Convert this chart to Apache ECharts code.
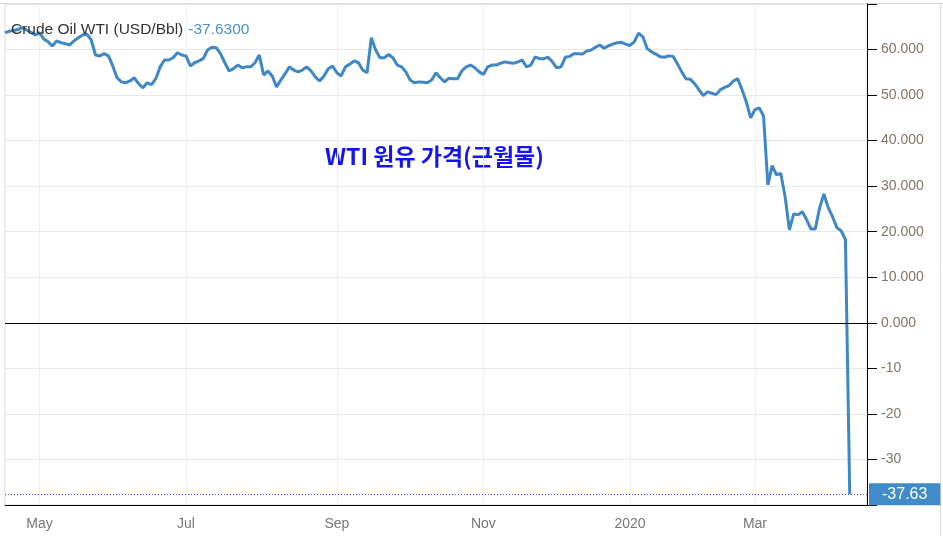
<!DOCTYPE html>
<html>
<head>
<meta charset="utf-8">
<title>Crude Oil WTI</title>
<script src="https://cdn.jsdelivr.net/npm/echarts/dist/echarts.min.js"></script>
<style>
  html, body { margin: 0; padding: 0; background: #fff; }
  #chart { width: 943px; height: 536px; }
</style>
</head>
<body>
<div id="chart"></div>
<script>
// sampled dates (roughly every other trading day)
var dates = [
  "2019-04-16","2019-04-17","2019-04-18","2019-04-22","2019-04-23","2019-04-25","2019-04-26","2019-04-29",
  "2019-05-01","2019-05-03","2019-05-06","2019-05-07","2019-05-09","2019-05-10","2019-05-13","2019-05-14","2019-05-16","2019-05-17","2019-05-20","2019-05-21","2019-05-23","2019-05-24","2019-05-28","2019-05-29","2019-05-31",
  "2019-06-03","2019-06-04","2019-06-05","2019-06-07","2019-06-10","2019-06-11","2019-06-13","2019-06-14","2019-06-17","2019-06-18","2019-06-20","2019-06-21","2019-06-24","2019-06-25","2019-06-26","2019-06-27","2019-06-28",
  "2019-07-01","2019-07-02","2019-07-03","2019-07-05","2019-07-08","2019-07-09","2019-07-11","2019-07-12","2019-07-15","2019-07-16","2019-07-18","2019-07-19","2019-07-22","2019-07-23","2019-07-25","2019-07-26","2019-07-29","2019-07-30",
  "2019-08-01","2019-08-02","2019-08-05","2019-08-06","2019-08-08","2019-08-09","2019-08-12","2019-08-13","2019-08-15","2019-08-16","2019-08-19","2019-08-20","2019-08-22","2019-08-23","2019-08-26","2019-08-28","2019-08-30",
  "2019-09-03","2019-09-04","2019-09-05","2019-09-06","2019-09-09","2019-09-10","2019-09-12","2019-09-13","2019-09-16","2019-09-17","2019-09-19","2019-09-20","2019-09-23","2019-09-24","2019-09-26","2019-09-27","2019-09-30",
  "2019-10-01","2019-10-02","2019-10-04","2019-10-07","2019-10-08","2019-10-10","2019-10-11","2019-10-14","2019-10-15","2019-10-17","2019-10-18","2019-10-21","2019-10-22","2019-10-24","2019-10-25","2019-10-28","2019-10-30",
  "2019-11-01","2019-11-04","2019-11-05","2019-11-07","2019-11-08","2019-11-11","2019-11-12","2019-11-14","2019-11-15","2019-11-18","2019-11-19","2019-11-21","2019-11-22","2019-11-25","2019-11-26","2019-11-27","2019-11-29",
  "2019-12-02","2019-12-03","2019-12-05","2019-12-06","2019-12-09","2019-12-10","2019-12-12","2019-12-13","2019-12-16","2019-12-17","2019-12-19","2019-12-20","2019-12-23","2019-12-24","2019-12-26","2019-12-27","2019-12-30",
  "2020-01-02","2020-01-03","2020-01-06","2020-01-08","2020-01-10","2020-01-13","2020-01-15","2020-01-17","2020-01-21","2020-01-22","2020-01-24","2020-01-27","2020-01-28","2020-01-29","2020-01-31",
  "2020-02-03","2020-02-04","2020-02-06","2020-02-07","2020-02-10","2020-02-12","2020-02-14","2020-02-18","2020-02-19","2020-02-21","2020-02-24","2020-02-25","2020-02-26","2020-02-28",
  "2020-03-02","2020-03-03","2020-03-05","2020-03-06","2020-03-09","2020-03-10","2020-03-12","2020-03-13","2020-03-16","2020-03-17","2020-03-19","2020-03-20","2020-03-23","2020-03-25","2020-03-26","2020-03-27","2020-03-30",
  "2020-04-02","2020-04-06","2020-04-09","2020-04-15","2020-04-17","2020-04-20",
  "2020-04-21","2020-04-22","2020-04-23","2020-04-24"
];

// WTI near-month price, USD/Bbl
var prices = [
  63.7, 64.0, 64.2, 64.4, 64.8, 64.3, 63.8, 63.2,
  63.7, 62.3, 61.7, 60.8, 61.9, 61.5, 61.3, 61.0, 61.9, 62.6, 63.2, 63.4, 62.1, 58.8, 58.6, 59.1, 58.6,
  56.4, 53.8, 52.9, 52.7, 53.1, 53.8, 52.5, 51.6, 52.7, 52.3, 53.6, 56.2, 57.7, 57.7, 58.2, 59.3, 58.8,
  58.6, 56.4, 57.1, 57.5, 58.0, 59.9, 60.5, 60.4, 59.1, 57.1, 55.3, 55.8, 56.6, 56.0, 56.2, 56.2, 57.1, 58.8,
  54.4, 55.3, 54.2, 51.8, 53.3, 54.7, 56.2, 55.5, 55.1, 55.5, 56.2, 55.3, 54.0, 53.1, 54.2, 55.8, 56.4,
  54.9, 54.2, 56.2, 56.8, 57.5, 57.1, 55.5, 54.9, 62.6, 59.9, 58.2, 58.2, 58.9, 58.2, 56.6, 56.2, 55.1,
  53.3, 52.7, 52.9, 52.8, 52.7, 53.3, 54.9, 53.8, 52.9, 53.7, 53.6, 53.6, 55.3, 56.2, 56.6, 56.0, 55.1,
  54.5, 56.2, 56.6, 56.6, 57.0, 57.3, 57.1, 57.0, 57.3, 57.7, 56.2, 56.6, 58.4, 58.0, 58.0, 58.3, 57.3,
  56.0, 56.2, 58.3, 58.5, 59.1, 59.1, 59.0, 59.7, 59.9, 60.5, 61.0, 60.3, 60.8, 61.2, 61.5, 61.6, 61.2,
  60.9, 61.7, 63.6, 62.8, 60.2, 59.5, 59.0, 58.4, 58.3, 58.6, 58.5, 56.9, 55.1, 53.6, 53.5,
  52.5, 51.2, 49.9, 50.7, 50.4, 50.1, 51.2, 51.7, 52.1, 53.1, 53.6, 51.2, 48.5, 45.0,
  46.8, 47.2, 45.4, 30.3, 34.5, 32.5, 32.8, 27.7, 20.4, 23.9, 23.7, 24.4, 22.6, 20.6, 20.6, 25.2, 28.3,
  25.3, 23.3, 20.9, 20.2, 18.3, -37.63
];

var lastPrice = -37.63;

// x axis labels
var tickDates = ["2019-05-01", "2019-07-01", "2019-09-03", "2019-11-01", "2020-01-02", "2020-03-02"];
var tickTexts = ["May", "Jul", "Sep", "Nov", "2020", "Mar"];

var font = "'Liberation Sans', Arial, sans-serif";

function isTick(idx, val) {
  return tickDates.indexOf(val) >= 0;
}

var chart = echarts.init(document.getElementById("chart"));
chart.setOption({
  animation: false,
  backgroundColor: "#fff",
  title: {
    left: 6,
    top: 16,
    text: "{name|Crude Oil WTI (USD/Bbl)} {val|" + lastPrice.toFixed(4) + "}",
    textStyle: {
      fontWeight: "normal",
      rich: {
        name: { fontFamily: font, fontSize: 15.5, fontWeight: "normal", color: "#333" },
        val: { fontFamily: font, fontSize: 15.5, fontWeight: "normal", color: "#4a8fce" }
      }
    }
  },
  grid: {
    left: 5,
    right: 76,
    top: 4,
    bottom: 31,
    show: true,
    borderColor: "#dcdcdc",
    borderWidth: 1
  },
  xAxis: {
    type: "category",
    data: dates,
    boundaryGap: false,
    axisLine: { onZero: false, lineStyle: { color: "#000", width: 1 } },
    axisTick: { show: false },
    axisLabel: {
      interval: isTick,
      formatter: function (val) { return tickTexts[tickDates.indexOf(val)]; },
      color: "#777",
      fontFamily: font,
      fontSize: 14,
      margin: 12
    },
    splitLine: {
      show: true,
      interval: isTick,
      lineStyle: { color: "#edf1f4", width: 1 }
    }
  },
  yAxis: {
    type: "value",
    position: "right",
    min: -40,
    max: 70,
    interval: 10,
    axisLine: { show: true, lineStyle: { color: "#000", width: 1 } },
    axisTick: { show: true, length: 10, lineStyle: { color: "#000" } },
    axisLabel: {
      margin: 14,
      color: "#857567",
      fontFamily: font,
      fontSize: 14,
      formatter: function (v) {
        if (v === 70 || v === -40) return "";
        return v >= 0 ? v.toFixed(3) : String(v);
      }
    },
    splitLine: { lineStyle: { color: "#e8e8e8", width: 1 } }
  },
  series: [
    {
      name: "WTI",
      type: "line",
      data: prices,
      showSymbol: false,
      symbol: "none",
      lineStyle: { color: "#3f87c7", width: 3 },
      markLine: {
        silent: true,
        symbol: "none",
        animation: false,
        data: [
          {
            yAxis: 0,
            lineStyle: { color: "#000", width: 1, type: "solid" },
            label: { show: false }
          },
          {
            yAxis: lastPrice,
            lineStyle: { color: "#4848ff", width: 1, type: [1, 2] },
            label: {
              show: true,
              position: "end",
              distance: 2,
              formatter: lastPrice.toFixed(2),
              color: "#fff",
              fontFamily: font,
              fontSize: 16,
              backgroundColor: "#428bca",
              padding: [3, 13, 3, 13]
            }
          }
        ]
      }
    }
  ],
  graphic: [
    {
      type: "text",
      left: 325,
      top: 145,
      style: {
        text: "WTI 원유 가격(근월물)",
        fill: "#1414f0",
        font: "bold 23px 'Noto Sans CJK KR', sans-serif"
      }
    },
    {
      type: "line",
      shape: { x1: 0, y1: 3.5, x2: 943, y2: 3.5 },
      style: { stroke: "#d8d8d8", lineWidth: 1 },
      z: -1
    },
    {
      type: "line",
      shape: { x1: 940.5, y1: 3.5, x2: 940.5, y2: 536 },
      style: { stroke: "#dcdcdc", lineWidth: 1 },
      z: -1
    }
  ]
});
</script>
</body>
</html>
